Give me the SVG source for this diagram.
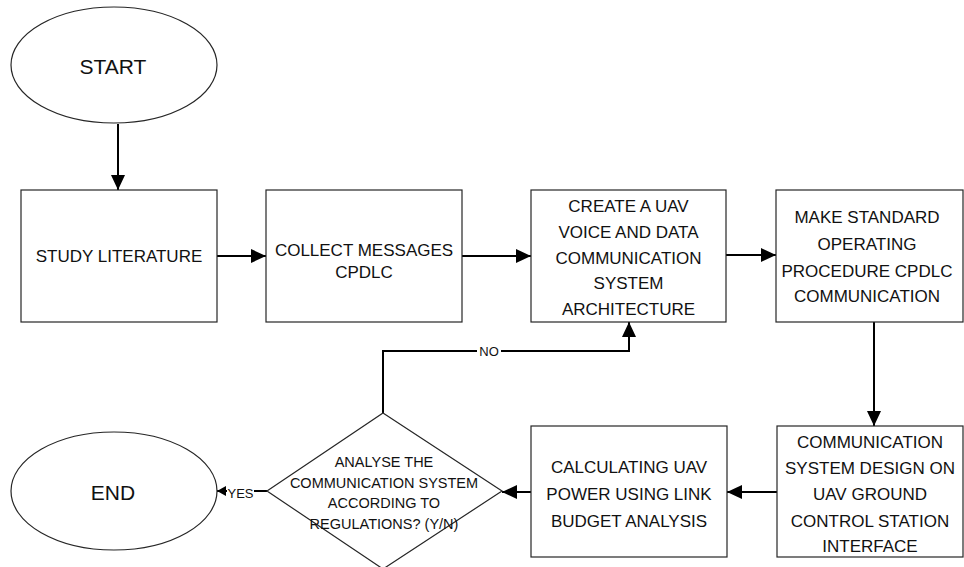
<svg xmlns="http://www.w3.org/2000/svg" width="964" height="567" viewBox="0 0 964 567">
<style>
.node{fill:#fff;stroke:#262626;stroke-width:1.2}
.t{font-family:"Liberation Sans",Arial,sans-serif;font-size:17px;fill:#111;text-anchor:middle}
.big{font-size:21px}
.dt{font-size:14.5px}
.lbl{font-family:"Liberation Sans",Arial,sans-serif;font-size:13px;fill:#111;text-anchor:middle}
.c{fill:none;stroke:#000;stroke-width:2}
</style>
<defs>
<marker id="ah" markerUnits="userSpaceOnUse" markerWidth="16" markerHeight="14" refX="15" refY="7" orient="auto">
<path d="M0,0 L15,7 L0,14 Z" fill="#000"/>
</marker>
<marker id="ahs" markerUnits="userSpaceOnUse" markerWidth="10" markerHeight="10" refX="9" refY="5" orient="auto">
<path d="M0,0 L9,5 L0,10 Z" fill="#000"/>
</marker>
</defs>
<rect width="964" height="567" fill="#fff"/>
<g id="connectors">
<path class="c" d="M118,124 V190" marker-end="url(#ah)"/>
<path class="c" d="M217,256 H266" marker-end="url(#ah)"/>
<path class="c" d="M462,256 H531" marker-end="url(#ah)"/>
<path class="c" d="M726,255 H776" marker-end="url(#ah)"/>
<path class="c" d="M874,322 V426" marker-end="url(#ah)"/>
<path class="c" d="M777,492 H727" marker-end="url(#ah)"/>
<path class="c" d="M531,492 H502" marker-end="url(#ah)"/>
<path class="c" d="M383,413 V351 H629 V322" marker-end="url(#ah)"/>
<path class="c" d="M267,491 H217" marker-end="url(#ahs)"/>
<rect x="477" y="343" width="24" height="15" fill="#fff"/>
<text class="lbl" x="489" y="356" font-size="13.5">NO</text>
<rect x="227" y="484" width="27" height="15" fill="#fff"/>
<text class="lbl" x="240.5" y="498">YES</text>
</g>
<g id="start">
<ellipse class="node" cx="114" cy="65" rx="103" ry="58" stroke="#000" stroke-width="1"/>
<text class="t big" x="113" y="74">START</text>
</g>
<g id="study">
<rect class="node" x="21" y="190" width="196" height="132"/>
<text class="t" x="119" y="262">STUDY LITERATURE</text>
</g>
<g id="collect">
<rect class="node" x="266" y="190" width="196" height="132"/>
<text class="t" x="364" y="256">COLLECT MESSAGES</text>
<text class="t" x="364" y="278">CPDLC</text>
</g>
<g id="create">
<rect class="node" x="531" y="190" width="195" height="132"/>
<text class="t" x="628.5" y="212">CREATE A UAV</text>
<text class="t" x="628.5" y="238">VOICE AND DATA</text>
<text class="t" x="628.5" y="263.5">COMMUNICATION</text>
<text class="t" x="628.5" y="289">SYSTEM</text>
<text class="t" x="628.5" y="315">ARCHITECTURE</text>
</g>
<g id="sop">
<rect class="node" x="776" y="190" width="187" height="132"/>
<text class="t" x="867" y="223">MAKE STANDARD</text>
<text class="t" x="867" y="250">OPERATING</text>
<text class="t" x="867" y="277">PROCEDURE CPDLC</text>
<text class="t" x="867" y="302">COMMUNICATION</text>
</g>
<g id="design">
<rect class="node" x="777" y="426" width="186" height="131"/>
<text class="t" x="870" y="448">COMMUNICATION</text>
<text class="t" x="870" y="474">SYSTEM DESIGN ON</text>
<text class="t" x="870" y="500">UAV GROUND</text>
<text class="t" x="870" y="527">CONTROL STATION</text>
<text class="t" x="870" y="552">INTERFACE</text>
</g>
<g id="calc">
<rect class="node" x="531" y="426" width="196" height="131"/>
<text class="t" x="629" y="473">CALCULATING UAV</text>
<text class="t" x="629" y="500">POWER USING LINK</text>
<text class="t" x="629" y="527">BUDGET ANALYSIS</text>
</g>
<g id="decision">
<polygon class="node" points="383,413 502,491 383,569 267,491"/>
<text class="t dt" x="384" y="467">ANALYSE THE</text>
<text class="t dt" x="384" y="488">COMMUNICATION SYSTEM</text>
<text class="t dt" x="384" y="508">ACCORDING TO</text>
<text class="t dt" x="384" y="529">REGULATIONS? (Y/N)</text>
</g>
<g id="end">
<ellipse class="node" cx="114" cy="491" rx="103" ry="59" stroke="#000" stroke-width="1"/>
<text class="t big" x="113" y="500">END</text>
</g>
</svg>
